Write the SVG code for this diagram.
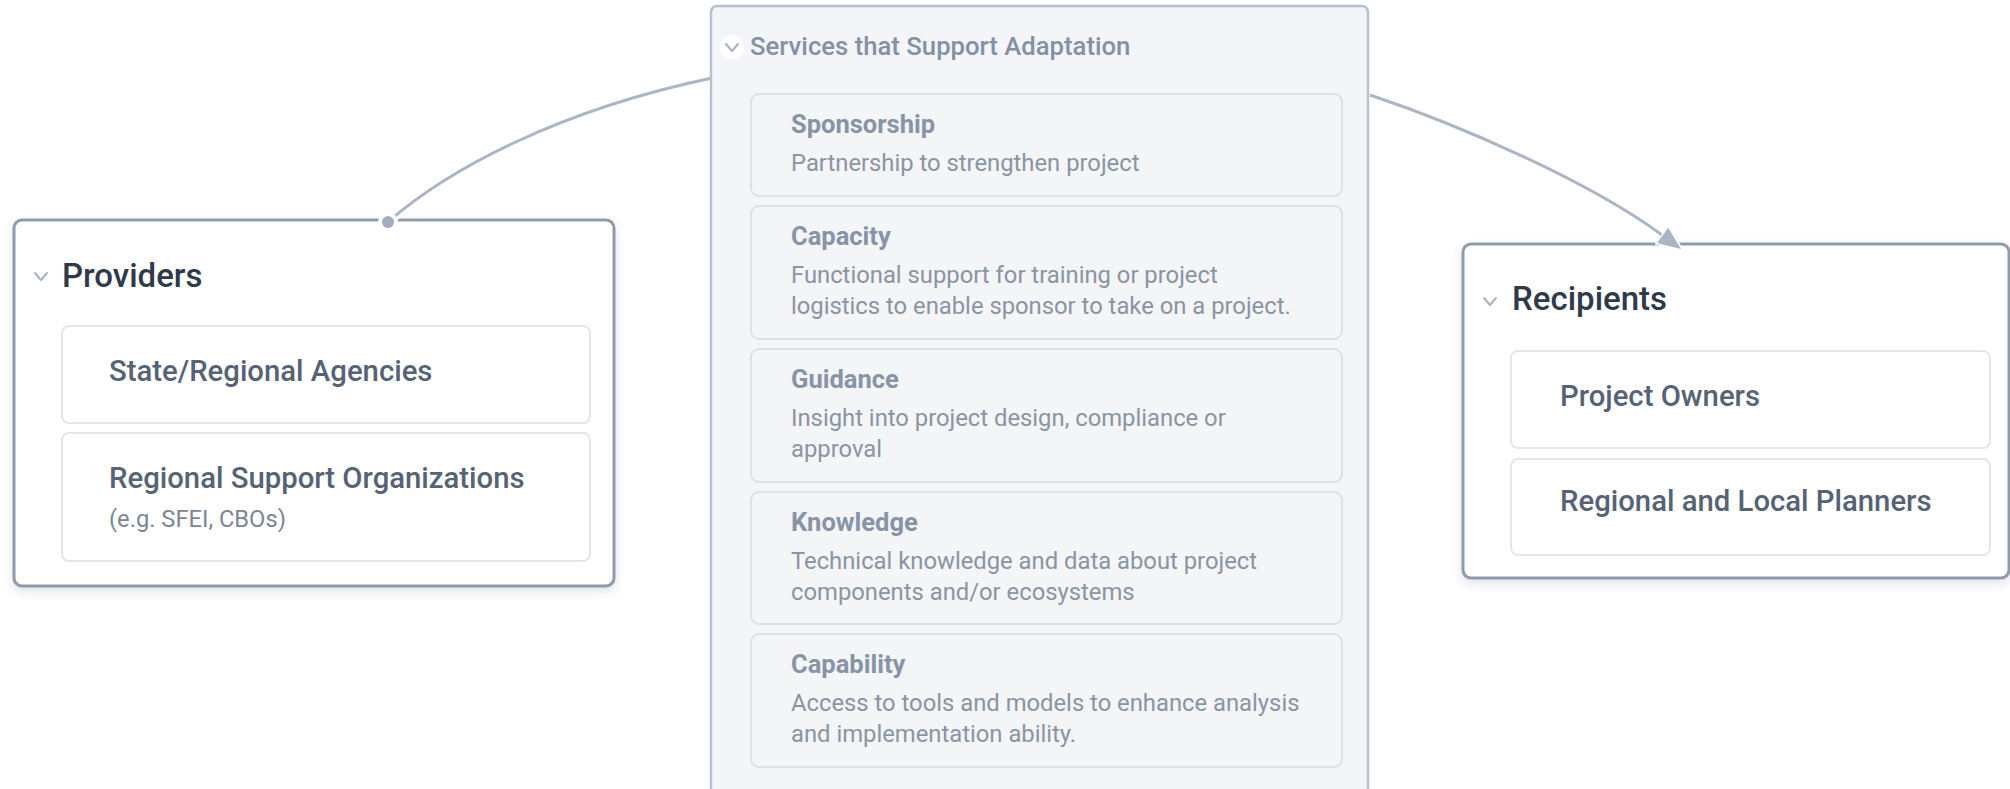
<svg xmlns="http://www.w3.org/2000/svg" width="2010" height="789" viewBox="0 0 2010 789">
<defs>
<style>
text{font-family:Roboto,"Liberation Sans",sans-serif}
.outer{fill:#ffffff;stroke:#8f9bac;stroke-width:3}
.inner{fill:#ffffff;stroke:#e3e7ed;stroke-width:2}
.svcbox{fill:#f3f5f8;stroke:#b8c2cf;stroke-width:2.5}
.svcitem{fill:#f4f5f7;stroke:#dce1e8;stroke-width:2}
.chev{fill:none;stroke:#a8b3c2;stroke-width:2;stroke-linecap:round;stroke-linejoin:round}
.title{font-size:33px;font-weight:500;fill:#2e3a4a}
.item{font-size:29.3px;font-weight:500;fill:#566375}
.sub{font-size:23.7px;font-weight:400;fill:#7b8697}
.svchead{font-size:25.7px;font-weight:500;fill:#8491a5}
.svctitle{font-size:25.5px;font-weight:700;fill:#8794a8}
.svcdesc{font-size:23.8px;font-weight:400;fill:#8a94a3}
.casing{fill:none;stroke:#ffffff;stroke-width:9;stroke-linecap:round}
.edge{fill:none;stroke:#abb6c5;stroke-width:3}
</style>
<filter id="shadow" x="-10%" y="-10%" width="120%" height="130%">
<feDropShadow dx="0" dy="4" stdDeviation="5" flood-color="#56657a" flood-opacity="0.18"/>
</filter>
<marker id="arrow" markerUnits="userSpaceOnUse" markerWidth="30" markerHeight="30" viewBox="-2 -13 28 26" refX="0" refY="0" orient="auto">
<path d="M0,-10 L24,0 L0,10 Z" fill="#abb6c5" stroke="#ffffff" stroke-width="1.5" stroke-linejoin="round"/>
</marker>
</defs>
<rect width="2010" height="789" fill="#ffffff"/>

<g id="providers">
<rect class="outer" x="14" y="220" width="600" height="366" rx="8" filter="url(#shadow)"/>
<polyline class="chev" points="35,273 41,280 47,273"/>
<text class="title" x="62" y="287">Providers</text>
<g id="state-regional-agencies">
<rect class="inner" x="62" y="326" width="528" height="97" rx="7"/>
<text class="item" x="109" y="381">State/Regional Agencies</text>
</g>
<g id="regional-support-organizations">
<rect class="inner" x="62" y="433" width="528" height="128" rx="7"/>
<text class="item" x="109" y="488">Regional Support Organizations</text>
<text class="sub" x="109" y="527">(e.g. SFEI, CBOs)</text>
</g>
</g>

<g id="recipients">
<rect class="outer" x="1463" y="244" width="546" height="334" rx="8" filter="url(#shadow)"/>
<polyline class="chev" points="1484,298 1490,305 1496,298"/>
<text class="title" x="1512" y="310">Recipients</text>
<g id="project-owners">
<rect class="inner" x="1511" y="351" width="479" height="97" rx="7"/>
<text class="item" x="1560" y="406">Project Owners</text>
</g>
<g id="regional-local-planners">
<rect class="inner" x="1511" y="459" width="479" height="96" rx="7"/>
<text class="item" x="1560" y="511">Regional and Local Planners</text>
</g>
</g>

<g id="connectors">
<path class="casing" d="M388,222 C450,168 560,110 712,78"/>
<path class="edge" d="M388,222 C450,168 560,110 712,78"/>
<circle cx="388" cy="222" r="10" fill="#ffffff"/>
<circle cx="388" cy="222" r="6" fill="#a3aebd"/>
<path class="casing" d="M1370,95 C1460,125 1590,182 1662,235"/>
<path class="edge" d="M1370,95 C1460,125 1590,182 1662,235" marker-end="url(#arrow)"/>
</g>

<g id="services">
<rect class="svcbox" x="711" y="6" width="657" height="800" rx="6"/>
<circle cx="732" cy="47" r="12" fill="#ffffff"/>
<polyline class="chev" points="726,44 732,51 738,44"/>
<text class="svchead" x="750" y="55">Services that Support Adaptation</text>
<g id="sponsorship">
<rect class="svcitem" x="751" y="94" width="591" height="102" rx="8"/>
<text class="svctitle" x="791" y="133">Sponsorship</text>
<text class="svcdesc" x="791" y="171">Partnership to strengthen project</text>
</g>
<g id="capacity">
<rect class="svcitem" x="751" y="206" width="591" height="133" rx="8"/>
<text class="svctitle" x="791" y="245">Capacity</text>
<text class="svcdesc" x="791" y="283">Functional support for training or project</text>
<text class="svcdesc" x="791" y="314">logistics to enable sponsor to take on a project.</text>
</g>
<g id="guidance">
<rect class="svcitem" x="751" y="349" width="591" height="133" rx="8"/>
<text class="svctitle" x="791" y="388">Guidance</text>
<text class="svcdesc" x="791" y="426">Insight into project design, compliance or</text>
<text class="svcdesc" x="791" y="457">approval</text>
</g>
<g id="knowledge">
<rect class="svcitem" x="751" y="492" width="591" height="132" rx="8"/>
<text class="svctitle" x="791" y="531">Knowledge</text>
<text class="svcdesc" x="791" y="569">Technical knowledge and data about project</text>
<text class="svcdesc" x="791" y="600">components and/or ecosystems</text>
</g>
<g id="capability">
<rect class="svcitem" x="751" y="634" width="591" height="133" rx="8"/>
<text class="svctitle" x="791" y="673">Capability</text>
<text class="svcdesc" x="791" y="711">Access to tools and models to enhance analysis</text>
<text class="svcdesc" x="791" y="742">and implementation ability.</text>
</g>
</g>
</svg>
